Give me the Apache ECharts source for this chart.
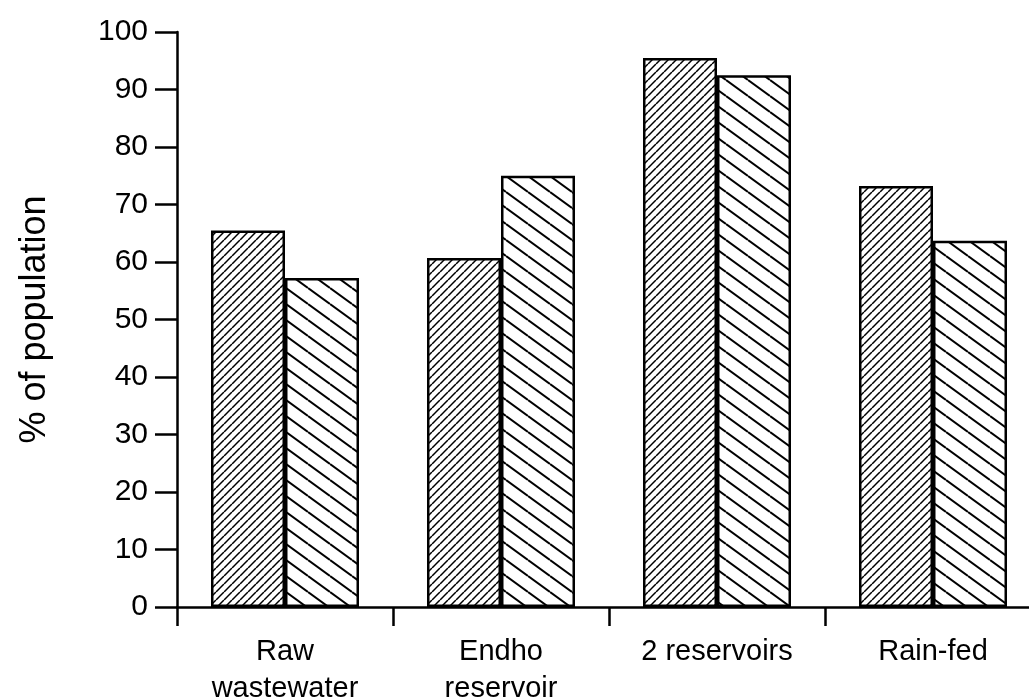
<!DOCTYPE html>
<html>
<head>
<meta charset="utf-8">
<script src="https://cdn.jsdelivr.net/npm/echarts@6/dist/echarts.min.js"></script>
<style>
html,body{margin:0;padding:0;background:#fff;}
#chart{width:1029px;height:699px;}
</style>
</head>
<body>
<div id="chart"></div>
<script>
var categories = ['Raw\nwastewater', 'Endho\nreservoir', '2 reservoirs', 'Rain-fed'];
var seriesA = [65.5, 60.7, 95.5, 73.2];
var seriesB = [57.2, 75, 92.5, 63.7];
var yTicks = [0, 10, 20, 30, 40, 50, 60, 70, 80, 90, 100];

function hatchDense() {
  var c = document.createElement('canvas');
  c.width = 8; c.height = 8;
  var g = c.getContext('2d');
  g.fillStyle = '#fff'; g.fillRect(0, 0, 8, 8);
  g.strokeStyle = '#000'; g.lineWidth = 1.5;
  for (var k = -1; k <= 1; k++) {
    g.beginPath(); g.moveTo(k * 8, 8); g.lineTo(k * 8 + 8, 0); g.stroke();
  }
  return c;
}
function hatchSparse() {
  var w = 22, h = 16;
  var c = document.createElement('canvas');
  c.width = w; c.height = h;
  var g = c.getContext('2d');
  g.fillStyle = '#fff'; g.fillRect(0, 0, w, h);
  g.strokeStyle = '#000'; g.lineWidth = 2;
  for (var k = -1; k <= 1; k++) {
    g.beginPath(); g.moveTo(0, k * h); g.lineTo(w, k * h + h); g.stroke();
  }
  return c;
}

var chart = echarts.init(document.getElementById('chart'), null, {renderer: 'canvas'});
var font = '"Liberation Sans", Arial, Helvetica, sans-serif';
chart.setOption({
  backgroundColor: '#fff',
  animation: false,
  grid: {left: 177, top: 32, width: 864, height: 575, containLabel: false, outerBoundsMode: 'none'},
  xAxis: {
    type: 'category',
    data: categories,
    axisLine: {lineStyle: {color: '#000', width: 2.5}},
    axisTick: {show: true, length: 19, lineStyle: {color: '#000', width: 2.5}},
    axisLabel: {color: '#000', fontSize: 29, fontFamily: font, margin: 26, lineHeight: 37, interval: 0}
  },
  yAxis: {
    type: 'value',
    min: 0, max: 100, interval: 10,
    name: '% of population',
    nameLocation: 'middle',
    nameRotate: 90,
    nameGap: 124,
    nameTextStyle: {color: '#000', fontSize: 36, fontFamily: font},
    splitLine: {show: false},
    axisLine: {show: true, lineStyle: {color: '#000', width: 2.5}},
    axisTick: {show: true, length: 22, lineStyle: {color: '#000', width: 2.5}},
    axisLabel: {color: '#000', fontSize: 30, fontFamily: font, margin: 29,
      formatter: function (v) { return yTicks.indexOf(v) >= 0 ? String(v) : ''; }}
  },
  series: [
    {
      type: 'bar', data: seriesA, barWidth: 74, barGap: '0%',
      itemStyle: {color: {image: hatchDense(), repeat: 'repeat'}, borderColor: '#000', borderWidth: 2.5}
    },
    {
      type: 'bar', data: seriesB, barWidth: 74, barGap: '0%',
      itemStyle: {color: {image: hatchSparse(), repeat: 'repeat'}, borderColor: '#000', borderWidth: 2.5}
    }
  ]
});
</script>
</body>
</html>
